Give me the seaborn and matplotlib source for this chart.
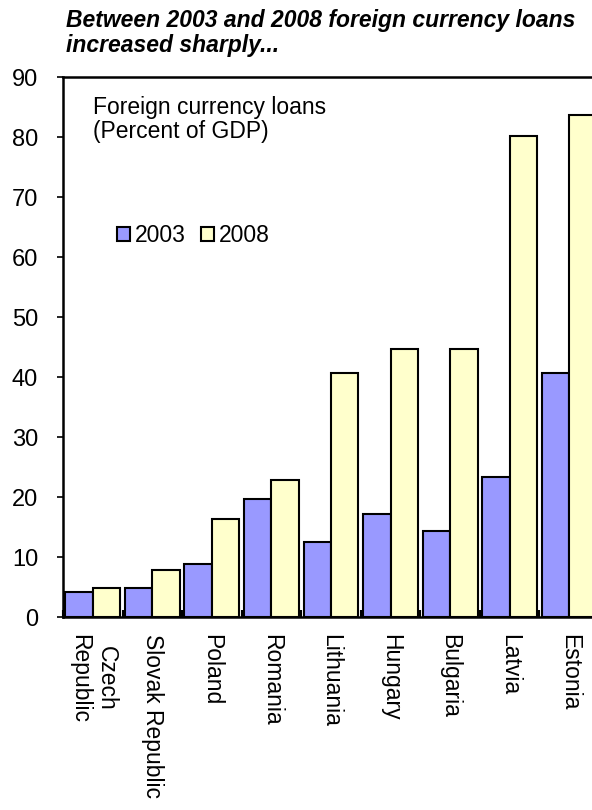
import matplotlib
matplotlib.use('Agg')
import matplotlib.pyplot as plt
from matplotlib.ticker import FixedLocator
import pandas as pd
import seaborn as sns

countries = ['Czech\nRepublic', 'Slovak Republic', 'Poland', 'Romania', 'Lithuania',
             'Hungary', 'Bulgaria', 'Latvia', 'Estonia']
loans_2003 = [4.2, 4.9, 8.9, 19.6, 12.5, 17.1, 14.3, 23.3, 40.7]
loans_2008 = [4.9, 7.8, 16.3, 22.8, 40.7, 44.6, 44.6, 80.1, 83.6]
years = ['2003', '2008']
colors = ['#9999FF', '#FFFFCC']

df = pd.DataFrame({
    'country': countries * 2,
    'year': [years[0]] * len(countries) + [years[1]] * len(countries),
    'value': loans_2003 + loans_2008,
})

sns.set_style('white')
plt.rcParams['font.family'] = ['Liberation Sans', 'DejaVu Sans']
plt.rcParams['text.color'] = 'black'

fig = plt.figure(figsize=(5.92, 8.10), dpi=100)
ax = fig.add_axes([63 / 592, 1 - 617 / 810, 536 / 592, 540 / 810])

sns.barplot(data=df, x='country', y='value', hue='year', order=countries,
            hue_order=years, palette=colors, width=0.92, gap=0,
            edgecolor='black', linewidth=1.5, saturation=1, ax=ax)

ax.set_xlim(-0.5, 8.5)
ax.set_ylim(0, 90)
ax.set_yticks(range(0, 91, 10))
ax.set_xlabel('')
ax.set_ylabel('')

for side in ['left', 'bottom', 'top']:
    ax.spines[side].set_color('black')
    ax.spines[side].set_linewidth(1.8)
ax.spines['right'].set_visible(False)

ax.tick_params(axis='y', direction='out', length=4, width=1.2, labelsize=17,
               colors='black', pad=14, left=True)
ax.tick_params(axis='x', which='major', length=0, labelsize=16.5, pad=12,
               labelcolor='black')
ax.xaxis.set_minor_locator(FixedLocator([i + 0.5 for i in range(-1, 9)]))
ax.tick_params(axis='x', which='minor', direction='in', length=5, width=1.5,
               bottom=True, colors='black')
for lbl in ax.get_xticklabels():
    lbl.set_rotation(270)
    lbl.set_va('top')
    lbl.set_ha('center')
    lbl.set_multialignment('center')

ax.text(0.056, 0.965, 'Foreign currency loans\n(Percent of GDP)',
        transform=ax.transAxes, ha='left', va='top', fontsize=16.5,
        linespacing=1.05, color='black')

leg = ax.legend(loc='center left', bbox_to_anchor=(0.08, 0.707), ncol=2,
                frameon=False, fontsize=16.5, handlelength=0.55, handleheight=0.55,
                handletextpad=0.2, columnspacing=0.7, borderpad=0)
for t in leg.get_texts():
    t.set_color('black')

fig.text(66 / 592, 1 - 9 / 810,
         'Between 2003 and 2008 foreign currency loans\nincreased sharply...',
         ha='left', va='top', fontsize=16.5, fontweight='bold', fontstyle='italic',
         linespacing=1.1, color='black')

fig.savefig('out.png', dpi=100)
